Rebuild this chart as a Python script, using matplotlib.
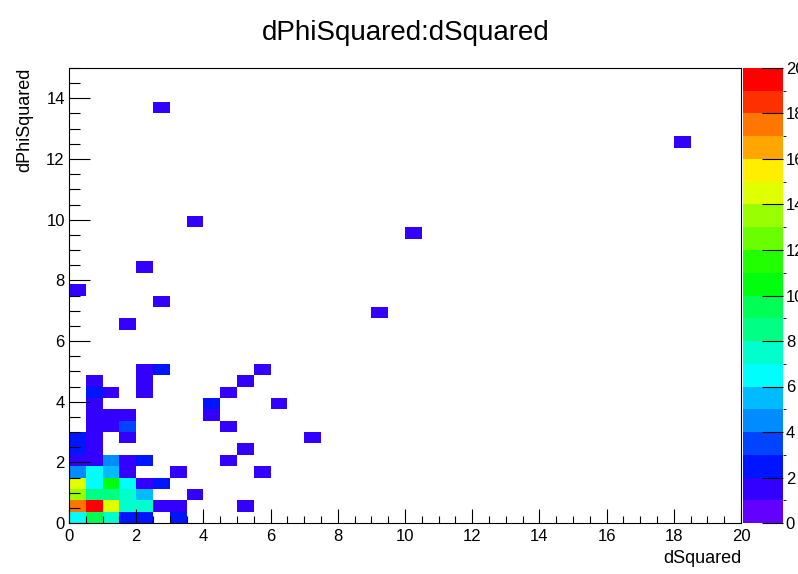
import colorsys
import numpy as np
import matplotlib
matplotlib.use('Agg')
import matplotlib.pyplot as plt
from matplotlib.colors import ListedColormap, BoundaryNorm

plt.rcParams['font.family'] = ['Liberation Sans', 'DejaVu Sans']

# bin layout of the TH2 (40 x 40 bins)
x_edges = np.linspace(0, 20, 41)
y_edges = np.linspace(0, 15, 41)

# filled bins: dSquared centre, dPhiSquared centre, entries
dsquared = [0.25, 0.75, 1.25, 1.75, 2.25, 3.25,
            0.25, 0.75, 1.25, 1.75, 2.25, 2.75, 3.25, 5.25,
            0.25, 0.75, 1.25, 1.75, 2.25, 3.75,
            0.25, 0.75, 1.25, 1.75, 2.25, 2.75,
            0.25, 0.75, 1.25, 1.75, 3.25, 5.75,
            0.25, 0.75, 1.25, 1.75, 2.25, 4.75,
            0.25, 0.75, 5.25,
            0.25, 0.75, 1.75, 7.25,
            0.75, 1.25, 1.75, 4.75,
            0.75, 1.25, 1.75, 4.25,
            0.75, 4.25, 6.25,
            0.75, 1.25, 2.25, 4.75,
            0.75, 2.25, 5.25,
            2.25, 2.75, 5.75,
            1.75, 9.25, 2.75, 0.25, 2.25, 10.25, 3.75, 18.25, 2.75]
dphisquared = [0.19, 0.19, 0.19, 0.19, 0.19, 0.19,
               0.56, 0.56, 0.56, 0.56, 0.56, 0.56, 0.56, 0.56,
               0.94, 0.94, 0.94, 0.94, 0.94, 0.94,
               1.31, 1.31, 1.31, 1.31, 1.31, 1.31,
               1.69, 1.69, 1.69, 1.69, 1.69, 1.69,
               2.06, 2.06, 2.06, 2.06, 2.06, 2.06,
               2.44, 2.44, 2.44,
               2.81, 2.81, 2.81, 2.81,
               3.19, 3.19, 3.19, 3.19,
               3.56, 3.56, 3.56, 3.56,
               3.94, 3.94, 3.94,
               4.31, 4.31, 4.31, 4.31,
               4.69, 4.69, 4.69,
               5.06, 5.06, 5.06,
               6.56, 6.94, 7.31, 7.69, 8.44, 9.56, 9.94, 12.56, 13.69]
entries = [6, 9, 7, 2, 2, 2,
           17, 19, 14, 7, 7, 1, 1, 1,
           13, 8, 8, 7, 5, 1,
           14, 6, 10, 6, 1, 2,
           4, 6, 5, 1, 1, 1,
           1, 1, 4, 1, 2, 1,
           2, 1, 1,
           2, 1, 1, 1,
           1, 1, 3, 1,
           1, 1, 1, 1,
           1, 2, 1,
           2, 1, 1, 1,
           1, 1, 1,
           1, 2, 1,
           1, 1, 1, 1, 1, 1, 1, 1, 1]

z_levels = np.arange(0, 21)
cbar_ticks = np.arange(0, 21, 2)

# ROOT "pretty" palette (violet -> red), 20 contour levels taken from 50 colours
palette = []
for i in range(50):
    hue = 280 - (i + 1) * 5.6
    palette.append(colorsys.hls_to_rgb(max(hue, 0) / 360.0, 0.5, 1.0))
level_colors = [palette[int((k + 0.99) * 50 / 20)] for k in range(20)]
cmap = ListedColormap(level_colors)
norm = BoundaryNorm(z_levels, cmap.N)

h, _, _ = np.histogram2d(dsquared, dphisquared, bins=[x_edges, y_edges], weights=entries)
h = np.ma.masked_where(h == 0, h)

fig = plt.figure(figsize=(7.98, 5.74), dpi=100)
ax = fig.add_axes([69 / 798, 51 / 574, 672 / 798, 455 / 574])
mesh = ax.pcolormesh(x_edges, y_edges, h.T, cmap=cmap, norm=norm,
                     edgecolors='none', antialiased=False)

ax.set_xlim(0, 20)
ax.set_ylim(0, 15)
ax.set_xticks(np.arange(0, 21, 2))
ax.set_xticks(np.arange(0, 20.01, 0.5), minor=True)
ax.set_yticks(np.arange(0, 15, 2))
ax.set_yticks(np.arange(0, 15.01, 0.5), minor=True)
ax.tick_params(axis='both', which='both', direction='in', top=False, right=False,
               labelsize=12, width=0.8)
ax.tick_params(axis='x', which='major', length=10, pad=4)
ax.tick_params(axis='x', which='minor', length=5)
ax.tick_params(axis='y', which='major', length=15, pad=3)
ax.tick_params(axis='y', which='minor', length=8)
for sp in ax.spines.values():
    sp.set_linewidth(0.8)

cax = fig.add_axes([743 / 798, 51 / 574, 40 / 798, 455 / 574])
cb = fig.colorbar(mesh, cax=cax, ticks=cbar_ticks)
cb.outline.set_visible(False)
cax.tick_params(direction='in', length=15, width=0.8, labelsize=12, pad=2)

fig.text(406 / 798, 1 - 40 / 574, 'dPhiSquared:dSquared', ha='center', va='baseline', fontsize=20)
fig.text(741 / 798, 1 - 563 / 574, 'dSquared', ha='right', va='baseline', fontsize=13)
fig.text(25 / 798, 1 - 68 / 574, 'dPhiSquared', ha='center', va='top', rotation=90, fontsize=13)

fig.savefig('out.png', dpi=100)
